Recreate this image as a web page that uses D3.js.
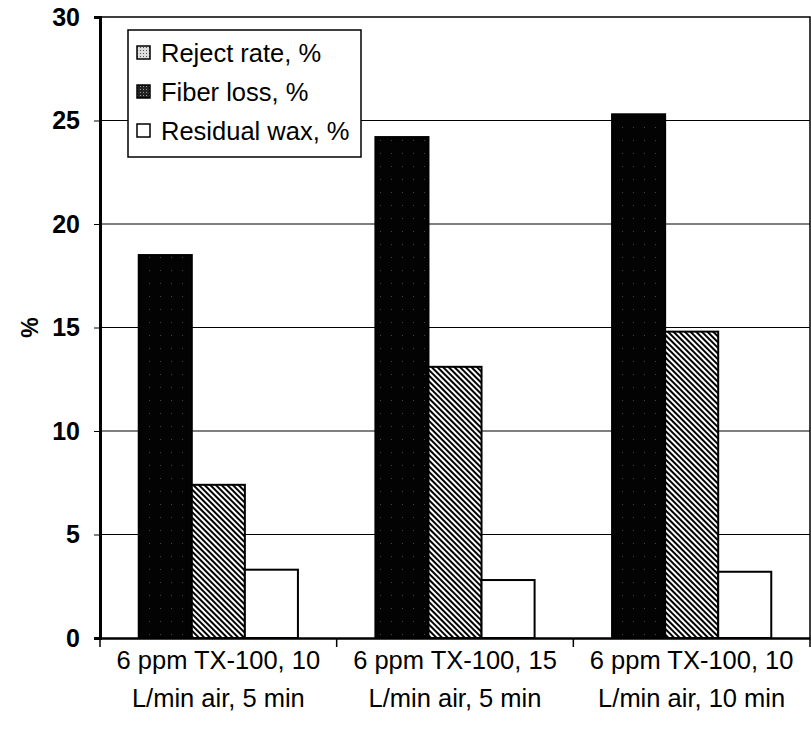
<!DOCTYPE html>
<html>
<head>
<meta charset="utf-8">
<script src="https://cdn.jsdelivr.net/npm/d3@7/dist/d3.min.js"></script>
<style>
body { margin: 0; background: #fff; }
svg { display: block; font-family: Arial, "Liberation Sans", sans-serif; }
</style>
</head>
<body>
<svg id="chart" width="811" height="740"></svg>
<script>
// chart data
var categories = ["g1", "g2", "g3"];
var categoryLabels = [
    ["6 ppm TX-100, 10", "L/min air, 5 min"],
    ["6 ppm TX-100, 15", "L/min air, 5 min"],
    ["6 ppm TX-100, 10", "L/min air, 10 min"]
];
var seriesNames = ["Reject rate, %", "Fiber loss, %", "Residual wax, %"];
var rejectRate = [18.5, 24.2, 25.3];
var fiberLoss = [7.4, 13.1, 14.8];
var residualWax = [3.3, 2.8, 3.2];
var yTicks = [0, 5, 10, 15, 20, 25, 30];

var margin = { top: 17, right: 1, bottom: 102, left: 100 };
var svg = d3.select("#chart");
var width = +svg.attr("width");
var height = +svg.attr("height");
var innerW = width - margin.left - margin.right;
var innerH = height - margin.top - margin.bottom;

var seriesValues = [rejectRate, fiberLoss, residualWax];

// fills for bars
var defs = svg.append("defs");
var dark = defs.append("pattern").attr("id", "dark")
    .attr("patternUnits", "userSpaceOnUse").attr("width", 11).attr("height", 13);
dark.append("rect").attr("width", 11).attr("height", 13).attr("fill", "#030303");
dark.append("rect").attr("x", 5).attr("y", 6).attr("width", 1).attr("height", 1).attr("fill", "#444");

var hatch = defs.append("pattern").attr("id", "hatch")
    .attr("patternUnits", "userSpaceOnUse").attr("width", 4).attr("height", 4)
    .attr("patternTransform", "rotate(45)");
hatch.append("rect").attr("width", 4).attr("height", 4).attr("fill", "#fff");
hatch.append("rect").attr("width", 4).attr("height", 2).attr("fill", "#000");

var dots = defs.append("pattern").attr("id", "dots")
    .attr("patternUnits", "userSpaceOnUse").attr("width", 3).attr("height", 3);
dots.append("rect").attr("width", 3).attr("height", 3).attr("fill", "#ddd");
dots.append("rect").attr("width", 1).attr("height", 1).attr("fill", "#555");

var dots2 = defs.append("pattern").attr("id", "dots2")
    .attr("patternUnits", "userSpaceOnUse").attr("width", 3).attr("height", 3);
dots2.append("rect").attr("width", 3).attr("height", 3).attr("fill", "#222");
dots2.append("rect").attr("width", 1).attr("height", 1).attr("fill", "#999");

var barFills = ["url(#dark)", "url(#hatch)", "#fff"];
var swatchFills = ["url(#dots)", "url(#dots2)", "#fff"];

var g = svg.append("g").attr("transform", `translate(${margin.left},${margin.top})`);

var x0 = d3.scaleBand().domain(categories).range([0, innerW]).padding(0);
var x1 = d3.scaleBand().domain(d3.range(seriesNames.length))
    .range([0, x0.bandwidth()]).paddingInner(0).paddingOuter(0.73);
var y = d3.scaleLinear().domain([0, 30]).range([innerH, 0]);

// gridlines
g.append("g").selectAll("line")
    .data(yTicks.filter(d => d > 0 && d < 30))
    .enter().append("line")
    .attr("x1", 0).attr("x2", innerW)
    .attr("y1", d => y(d)).attr("y2", d => y(d))
    .attr("stroke", "#000").attr("stroke-width", 1.2);

// plot border (top and right)
g.append("path")
    .attr("d", `M0,0H${innerW}V${innerH}`)
    .attr("fill", "none").attr("stroke", "#000").attr("stroke-width", 1.5);

// bars
categories.forEach(function(c, i) {
    g.append("g").selectAll("rect")
        .data(seriesValues.map((s, k) => ({ k: k, v: s[i] })))
        .enter().append("rect")
        .attr("x", d => x0(c) + x1(d.k))
        .attr("y", d => y(d.v))
        .attr("width", x1.bandwidth())
        .attr("height", d => innerH - y(d.v))
        .attr("fill", d => barFills[d.k])
        .attr("stroke", "#000").attr("stroke-width", 2);
});

// y axis
var yAxis = d3.axisLeft(y).tickValues(yTicks).tickSize(6).tickPadding(14);
var ya = g.append("g").call(yAxis);
ya.select(".domain").attr("stroke-width", 3);
ya.selectAll(".tick line").attr("stroke-width", 1);
ya.selectAll("text").attr("font-size", 25).attr("font-weight", "bold").attr("fill", "#000");

// x axis
var xAxis = d3.axisBottom(x0).tickValues([]).tickSizeOuter(0);
var xa = g.append("g").attr("transform", `translate(0,${innerH})`).call(xAxis);
xa.select(".domain").attr("stroke-width", 2.5);
xa.append("g").selectAll("line")
    .data(d3.range(categories.length + 1))
    .enter().append("line")
    .attr("x1", d => d * x0.step()).attr("x2", d => d * x0.step())
    .attr("y1", 0).attr("y2", 9)
    .attr("stroke", "#000").attr("stroke-width", 1.5);

var labels = xa.append("g").selectAll("text")
    .data(categories)
    .enter().append("text")
    .attr("x", d => x0(d) + x0.bandwidth() / 2)
    .attr("y", 31)
    .attr("text-anchor", "middle")
    .attr("font-size", 25.5)
    .attr("fill", "#000");
labels.each(function(d, i) {
    var t = d3.select(this);
    categoryLabels[i].forEach(function(line, j) {
        t.append("tspan").attr("x", x0(d) + x0.bandwidth() / 2)
            .attr("dy", j === 0 ? 0 : 38).text(line);
    });
});

// y title
svg.append("text")
    .attr("transform", `translate(38,${margin.top + y(15)}) rotate(-90)`)
    .attr("text-anchor", "middle")
    .attr("font-size", 23).attr("font-weight", "bold")
    .text("%");

// legend
var legend = svg.append("g").attr("transform", "translate(128,30)");
legend.append("rect").attr("width", 233).attr("height", 127)
    .attr("fill", "#fff").attr("stroke", "#000").attr("stroke-width", 1.5);
var items = legend.selectAll(".item").data(seriesNames).enter().append("g")
    .attr("transform", (d, i) => `translate(9,${23 + i * 39})`);
items.append("rect").attr("x", 0).attr("y", -7).attr("width", 13).attr("height", 13)
    .attr("fill", (d, i) => swatchFills[i]).attr("stroke", "#000").attr("stroke-width", 1.5);
items.append("text").attr("x", 24).attr("y", 9)
    .attr("font-size", 25.5).attr("fill", "#000").text(d => d);
</script>
</body>
</html>
